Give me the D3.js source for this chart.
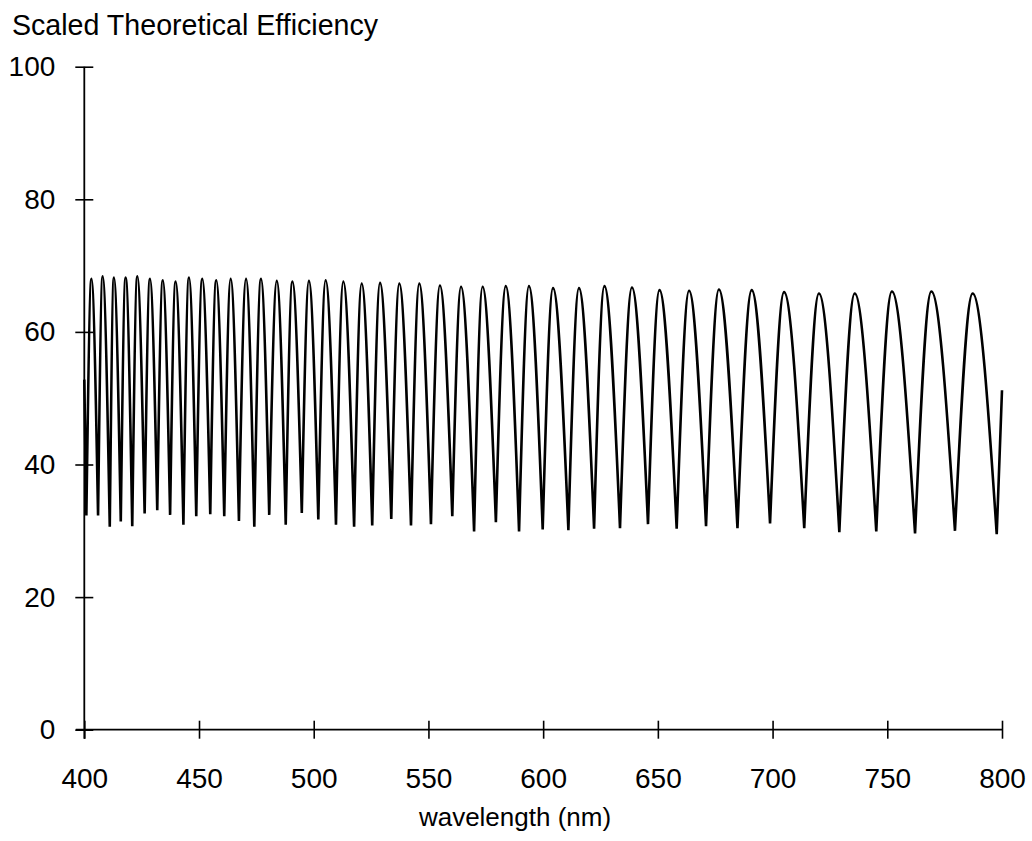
<!DOCTYPE html>
<html>
<head>
<meta charset="utf-8">
<script src="https://cdn.jsdelivr.net/npm/d3@7"></script>
<style>
  html, body { margin: 0; padding: 0; background: #ffffff; }
  svg { display: block; }
  text { font-family: "Liberation Sans", Arial, Helvetica, sans-serif; fill: #000; }
</style>
</head>
<body>
<svg id="chart" width="1032" height="841"></svg>
<script>
// ---- Data ----
const chartTitle = "Scaled Theoretical Efficiency";
const xAxisTitle = "wavelength (nm)";
const xTicks = [400, 450, 500, 550, 600, 650, 700, 750, 800];
const yTicks = [0, 20, 40, 60, 80, 100];

// curve begins and ends mid-lobe
const startPoint = [400.0, 52.8];
const endPoint = [800.0, 51.2];

// cusps (order changes) of the efficiency curve
const troughWl = [400.9, 406.0, 411.1, 415.9, 420.9, 426.3, 431.8, 437.4, 443.2, 448.8,
                  454.9, 461.0, 467.4, 474.1, 480.6, 487.8, 494.8, 502.0, 509.7, 517.6,
                  525.5, 533.8, 542.4, 551.1, 560.4, 569.9, 579.4, 589.5, 599.8, 611.0,
                  622.2, 633.5, 645.7, 658.2, 671.0, 684.7, 698.9, 713.8, 729.1, 745.2,
                  762.1, 779.5, 797.7];
const troughVal = [32.3, 32.3, 30.6, 31.4, 30.7, 32.6, 33.1, 32.4, 30.9, 32.2,
                   32.5, 32.2, 31.5, 30.6, 32.4, 30.9, 32.7, 31.7, 30.9, 30.6,
                   30.8, 31.8, 30.8, 31.0, 32.2, 29.9, 31.3, 29.9, 30.2, 30.1,
                   30.3, 30.4, 31.0, 30.3, 30.7, 30.4, 31.1, 30.4, 29.8, 29.9,
                   29.6, 30.0, 29.5];

// lobe maxima
const peakWl = [403.1, 408.0, 412.9, 418.0, 423.1, 428.6, 434.2, 439.8, 445.6, 451.4,
                457.5, 463.8, 470.5, 477.0, 483.9, 490.7, 497.9, 505.2, 512.9, 520.9,
                528.9, 537.3, 546.0, 555.0, 564.2, 573.6, 583.7, 593.8, 604.3, 615.6,
                626.7, 638.7, 650.7, 663.6, 676.6, 690.9, 705.0, 720.2, 735.8, 752.0,
                769.2, 787.2];
const peakVal = [68.0, 68.4, 68.2, 68.2, 68.4, 68.0, 67.8, 67.6, 68.2, 68.0,
                 67.8, 68.0, 68.0, 68.0, 67.7, 67.6, 67.7, 67.8, 67.6, 67.3,
                 67.4, 67.3, 67.3, 67.0, 66.8, 66.8, 66.9, 66.9, 66.6, 66.6,
                 66.9, 66.7, 66.3, 66.2, 66.4, 66.3, 66.0, 65.8, 65.8, 66.1,
                 66.1, 65.8];

// ---- Layout ----
const plotLeft = 84.3, plotRight = 1002, plotTop = 66.7, plotBottom = 729.7;
const svg = d3.select("#chart");

const x = d3.scaleLinear().domain([400, 800]).range([plotLeft, plotRight]);
const y = d3.scaleLinear().domain([0, 100]).range([plotBottom, plotTop]);

// ---- Curve: each lobe drawn as trough -> peak -> trough ----
const lineGen = d3.line()
  .x(d => x(d[0]))
  .y(d => y(d[1]))
  .curve(d3.curveMonotoneX);

const segments = [];
segments.push([startPoint, [troughWl[0], troughVal[0]]]);
for (let i = 0; i < peakWl.length; i++) {
  segments.push([
    [troughWl[i], troughVal[i]],
    [peakWl[i], peakVal[i]],
    [troughWl[i + 1], troughVal[i + 1]]
  ]);
}
segments.push([[troughWl[troughWl.length - 1], troughVal[troughVal.length - 1]], endPoint]);

let pathStr = "";
segments.forEach((seg, i) => {
  let s = lineGen(seg);
  if (i > 0) s = s.replace(/^M[^CLZ]*/, "");
  pathStr += s;
});

svg.append("path")
  .attr("d", pathStr)
  .attr("fill", "none")
  .attr("stroke", "#000")
  .attr("stroke-width", 2.6)
  .attr("stroke-linejoin", "miter")
  .attr("stroke-miterlimit", 10);

// ---- Axes ----
const xAxis = d3.axisBottom(x).tickValues(xTicks).tickFormat(d3.format("d"))
  .tickSizeInner(9).tickSizeOuter(0).tickPadding(29);
const gx = svg.append("g").attr("transform", `translate(0,${plotBottom})`).call(xAxis);
gx.select(".domain").remove();
gx.selectAll(".tick line").attr("y1", -9).attr("y2", 9).attr("stroke", "#000").attr("stroke-width", 1.6);
gx.selectAll(".tick text").attr("font-size", 28).attr("font-family", "Liberation Sans, Arial, sans-serif");
gx.append("line").attr("x1", x(400) - 8.5).attr("x2", plotRight).attr("y1", 0).attr("y2", 0)
  .attr("stroke", "#000").attr("stroke-width", 1.8);

const yAxis = d3.axisLeft(y).tickValues(yTicks).tickFormat(d3.format("d"))
  .tickSizeInner(9).tickSizeOuter(0).tickPadding(20);
const gy = svg.append("g").attr("transform", `translate(${plotLeft},0)`).call(yAxis);
gy.select(".domain").remove();
gy.selectAll(".tick line").attr("x1", -9).attr("x2", 9).attr("stroke", "#000").attr("stroke-width", 1.6);
gy.selectAll(".tick text").attr("font-size", 28).attr("font-family", "Liberation Sans, Arial, sans-serif");
gy.append("line").attr("x1", 0).attr("x2", 0).attr("y1", plotTop).attr("y2", plotBottom + 9)
  .attr("stroke", "#000").attr("stroke-width", 1.8);

// ---- Titles ----
svg.append("text")
  .attr("x", 12).attr("y", 35)
  .attr("font-size", 28.6)
  .text(chartTitle);

svg.append("text")
  .attr("x", 515).attr("y", 826)
  .attr("text-anchor", "middle")
  .attr("font-size", 26)
  .text(xAxisTitle);
</script>
</body>
</html>
